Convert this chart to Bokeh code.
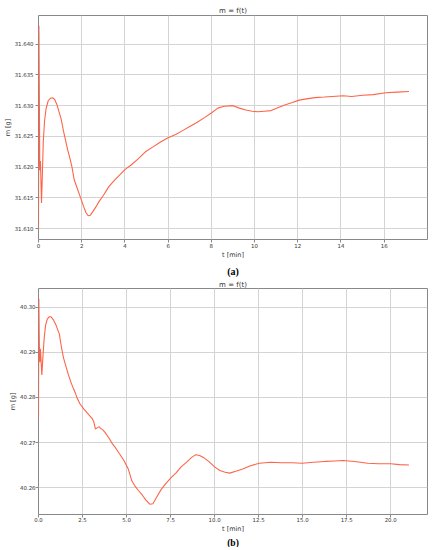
from bokeh.plotting import figure
from bokeh.layouts import column
from bokeh.models import Range1d, FixedTicker, PrintfTickFormatter, Title
from bokeh.embed import file_html
from bokeh.resources import INLINE

# ---- data (a) ----
t_a = [0.00, 0.02, 0.06, 0.09, 0.14, 0.18, 0.22, 0.28, 0.35, 0.45, 0.55, 0.65, 0.75,
       0.85, 0.95, 1.05, 1.15, 1.25, 1.35, 1.45, 1.55, 1.65, 1.80, 1.95, 2.10, 2.20,
       2.30, 2.40, 2.50, 2.65, 2.80, 3.00, 3.25, 3.50, 3.75, 4.00, 4.30, 4.60, 4.95,
       5.30, 5.65, 6.00, 6.35, 6.65, 7.00, 7.35, 7.70, 8.00, 8.30, 8.60, 9.00, 9.30,
       9.60, 9.90, 10.15, 10.45, 10.77, 11.10, 11.40, 11.75, 12.07, 12.40, 12.80,
       13.23, 13.60, 14.10, 14.50, 15.00, 15.50, 16.07, 16.60, 17.15]
m_a = [31.6099, 31.6430, 31.6195, 31.6210, 31.6142, 31.6190, 31.6240, 31.6275, 31.6295,
       31.6308, 31.6312, 31.6313, 31.6310, 31.6302, 31.6290, 31.6278, 31.6260, 31.6244,
       31.6228, 31.6215, 31.6200, 31.6180, 31.6165, 31.6150, 31.6135, 31.6126, 31.6121,
       31.6122, 31.6127, 31.6135, 31.6144, 31.6154, 31.6168, 31.6178, 31.6187, 31.6196,
       31.6204, 31.6213, 31.6225, 31.6233, 31.6241, 31.6248, 31.6253, 31.6259, 31.6266,
       31.6273, 31.6281, 31.6288, 31.6296, 31.6299, 31.6300, 31.6296, 31.6293, 31.6291,
       31.6290, 31.6291, 31.6292, 31.6297, 31.6301, 31.6305, 31.6309, 31.6311, 31.6313,
       31.6314, 31.6315, 31.6316, 31.6315, 31.6317, 31.6318, 31.6321, 31.6322, 31.6323]

# ---- data (b) ----
t_b = [0.00, 0.02, 0.05, 0.08, 0.11, 0.19, 0.25, 0.32, 0.40, 0.50, 0.60, 0.71, 0.85,
       1.00, 1.18, 1.30, 1.42, 1.55, 1.70, 1.85, 2.00, 2.11, 2.20, 2.35, 2.58, 2.85,
       3.05, 3.14, 3.23, 3.35, 3.45, 3.51, 3.65, 3.79, 4.00, 4.20, 4.36, 4.60, 4.85,
       5.10, 5.20, 5.30, 5.45, 5.66, 5.90, 6.10, 6.32, 6.50, 6.70, 6.97, 7.25, 7.53,
       7.80, 8.10, 8.40, 8.70, 8.93, 9.15, 9.40, 9.70, 10.00, 10.30, 10.60, 10.86,
       11.20, 11.60, 12.00, 12.54, 13.20, 13.80, 14.40, 14.97, 15.60, 16.28, 16.80,
       17.30, 17.95, 18.70, 19.30, 20.00, 20.50, 21.04]
m_b = [40.2752, 40.3019, 40.2910, 40.2878, 40.2908, 40.2850, 40.2890, 40.2930, 40.2960,
       40.2974, 40.2979, 40.2979, 40.2972, 40.2960, 40.2941, 40.2912, 40.2888, 40.2870,
       40.2850, 40.2833, 40.2818, 40.2808, 40.2798, 40.2786, 40.2774, 40.2762, 40.2753,
       40.2746, 40.2730, 40.2733, 40.2735, 40.2732, 40.2728, 40.2722, 40.2710, 40.2697,
       40.2689, 40.2675, 40.2660, 40.2641, 40.2628, 40.2615, 40.2605, 40.2594, 40.2583,
       40.2572, 40.2563, 40.2564, 40.2578, 40.2596, 40.2610, 40.2622, 40.2632, 40.2646,
       40.2656, 40.2667, 40.2673, 40.2671, 40.2666, 40.2657, 40.2646, 40.2638, 40.2634,
       40.2632, 40.2636, 40.2641, 40.2648, 40.2654, 40.2656, 40.2655, 40.2655, 40.2654,
       40.2656, 40.2658, 40.2659, 40.2660, 40.2658, 40.2654, 40.2653, 40.2653, 40.2651,
       40.2650]

# ---- ticks ----
xticks_a = [0, 2, 4, 6, 8, 10, 12, 14, 16]
yticks_a = [31.610, 31.615, 31.620, 31.625, 31.630, 31.635, 31.640]
xticks_b = [0.0, 2.5, 5.0, 7.5, 10.0, 12.5, 15.0, 17.5, 20.0]
yticks_b = [40.26, 40.27, 40.28, 40.29, 40.30]

title_text = "m = f(t)"
xlabel = "t [min]"
ylabel = "m [g]"
LINE = "#ff6347"
FONT = "DejaVu Sans"


def make(t, m, xt, yt, xfmt, yfmt, tag, height, top, left, title_standoff,
         tag_standoff, tag_size, tag_lh, xstand, ystand):
    lo, hi = min(m), max(m)
    r = hi - lo
    p = figure(width=432, height=height, output_backend="svg", toolbar_location=None,
               x_range=Range1d(0, max(t) * 1.05),
               y_range=Range1d(lo - 0.05 * r, hi + 0.05 * r),
               min_border_left=left, min_border_right=5, min_border_top=top,
               min_border_bottom=10)
    p.title.text = title_text
    p.title.align = "center"
    p.title.text_font = FONT
    p.title.text_font_size = "7px"
    p.title.text_font_style = "normal"
    p.title.text_color = "#333333"
    p.title.text_line_height = 0.8
    p.title.standoff = title_standoff
    p.line(t, m, line_color=LINE, line_width=1.1)
    p.outline_line_color = "#888888"
    p.outline_line_width = 1
    p.xaxis.ticker = FixedTicker(ticks=xt)
    p.yaxis.ticker = FixedTicker(ticks=yt)
    p.xaxis.formatter = PrintfTickFormatter(format=xfmt)
    p.yaxis.formatter = PrintfTickFormatter(format=yfmt)
    for ax in (p.xaxis, p.yaxis):
        ax.axis_line_color = None
        ax.major_tick_out = 3
        ax.major_tick_in = 0
        ax.major_tick_line_color = "#888888"
        ax.minor_tick_line_color = None
        ax.major_label_text_font = FONT
        ax.major_label_text_font_size = "5.4px"
        ax.major_label_text_color = "#333333"
        ax.axis_label_text_font = FONT
        ax.axis_label_text_font_size = "6.5px"
        ax.axis_label_text_font_style = "normal"
        ax.axis_label_text_color = "#333333"
        ax.axis_label_text_line_height = 1.0
        ax.axis_label_standoff = 0
    p.xaxis.major_label_standoff = xstand
    p.yaxis.major_label_standoff = ystand
    p.xaxis.axis_label = xlabel
    p.yaxis.axis_label = ylabel
    p.grid.grid_line_color = "#d4d4d4"
    p.grid.grid_line_width = 1
    p.add_layout(Title(text=tag, align="center", text_font="Liberation Serif",
                       text_font_size=tag_size, text_font_style="bold",
                       text_line_height=tag_lh,
                       text_color="#000000", standoff=tag_standoff), "below")
    return p


p1 = make(t_a, m_a, xticks_a, yticks_a, "%d", "%.3f", "(a)", 278, 15, 30, 1, 4,
          "10px", 1.0, 1, 2)
p2 = make(t_b, m_b, xticks_b, yticks_b, "%.1f", "%.2f", "(b)", 269, 10, 10, 0, 0,
          "9.5px", 0.8, 0, 0)

layout = column(p1, p2, spacing=0)
open("out.html", "w").write(file_html(layout, INLINE))
